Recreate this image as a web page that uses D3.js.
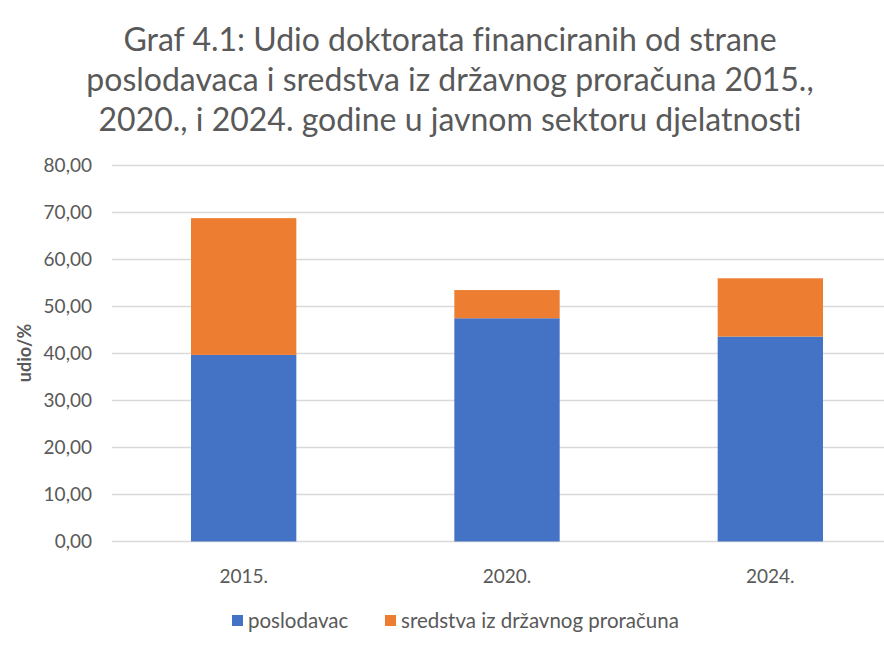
<!DOCTYPE html>
<html>
<head>
<meta charset="utf-8">
<script src="https://cdn.jsdelivr.net/npm/d3@7"></script>
<style>
  body { margin: 0; background: #fff; }
  text { font-family: Lato, "Open Sans", sans-serif; fill: #595959; font-variant-ligatures: none; }
</style>
</head>
<body>
<svg width="884" height="648"></svg>
<script>
// Data
let years = ["2015.", "2020.", "2024."];
let poslodavac = [39.7, 47.5, 43.6];
let proracun = [29.1, 6.0, 12.4];
let seriesNames = ["poslodavac", "sredstva iz državnog proračuna"];
let colors = ["#4472C4", "#ED7D31"];
let yTicks = [0, 10, 20, 30, 40, 50, 60, 70, 80];
let titleLines = [
  "Graf 4.1: Udio doktorata financiranih od strane",
  "poslodavaca i sredstva iz državnog proračuna 2015.,",
  "2020., i 2024. godine u javnom sektoru djelatnosti"
];

let svg = d3.select("svg");

// scales
let x = d3.scaleBand()
  .domain(years)
  .range([112, 902])
  .paddingInner(0.6)
  .paddingOuter(0.3);

let y = d3.scaleLinear()
  .domain([0, 80])
  .range([541.5, 165.5]);

// gridlines
svg.append("g")
  .selectAll("line")
  .data(yTicks)
  .enter()
  .append("line")
  .attr("x1", 112)
  .attr("x2", 902)
  .attr("y1", d => y(d))
  .attr("y2", d => y(d))
  .attr("stroke", "#d9d9d9")
  .attr("stroke-width", 1.3);

// y tick labels
let fmt = d => d.toFixed(2).replace(".", ",");
svg.append("g")
  .selectAll("text")
  .data(yTicks)
  .enter()
  .append("text")
  .attr("x", 92)
  .attr("y", d => y(d))
  .attr("dy", "0.35em")
  .attr("text-anchor", "end")
  .style("font-size", "19px")
  .text(fmt);

// stacked bars
let rows = years.map((yr, i) => ({ year: yr, poslodavac: poslodavac[i], proracun: proracun[i] }));
let stack = d3.stack().keys(["poslodavac", "proracun"]);
let layers = stack(rows);

svg.append("g")
  .selectAll("g")
  .data(layers)
  .enter()
  .append("g")
  .attr("fill", (d, i) => colors[i])
  .selectAll("rect")
  .data(d => d)
  .enter()
  .append("rect")
  .attr("x", d => x(d.data.year))
  .attr("width", x.bandwidth())
  .attr("y", d => y(d[1]))
  .attr("height", d => y(d[0]) - y(d[1]));

// x labels
svg.append("g")
  .selectAll("text")
  .data(years)
  .enter()
  .append("text")
  .attr("x", d => x(d) + x.bandwidth() / 2)
  .attr("y", 583)
  .attr("text-anchor", "middle")
  .style("font-size", "19px")
  .text(d => d);

// y axis title
svg.append("text")
  .attr("transform", "translate(31,353) rotate(-90)")
  .attr("text-anchor", "middle")
  .style("font-size", "18px")
  .style("font-weight", "bold")
  .text("udio/%");

// title
svg.append("g")
  .selectAll("text")
  .data(titleLines)
  .enter()
  .append("text")
  .attr("x", 450)
  .attr("y", (d, i) => 51 + i * 40)
  .attr("text-anchor", "middle")
  .style("font-size", "32px")
  .text(d => d);

// legend
let legendX = [232, 385];
let legend = svg.append("g")
  .selectAll("g")
  .data(seriesNames)
  .enter()
  .append("g")
  .attr("transform", (d, i) => `translate(${legendX[i]},621)`);

legend.append("rect")
  .attr("x", 0)
  .attr("y", -6)
  .attr("width", 11)
  .attr("height", 11)
  .attr("fill", (d, i) => colors[i]);

legend.append("text")
  .attr("x", 16)
  .attr("dy", "0.35em")
  .style("font-size", "20.5px")
  .text(d => d);
</script>
</body>
</html>
